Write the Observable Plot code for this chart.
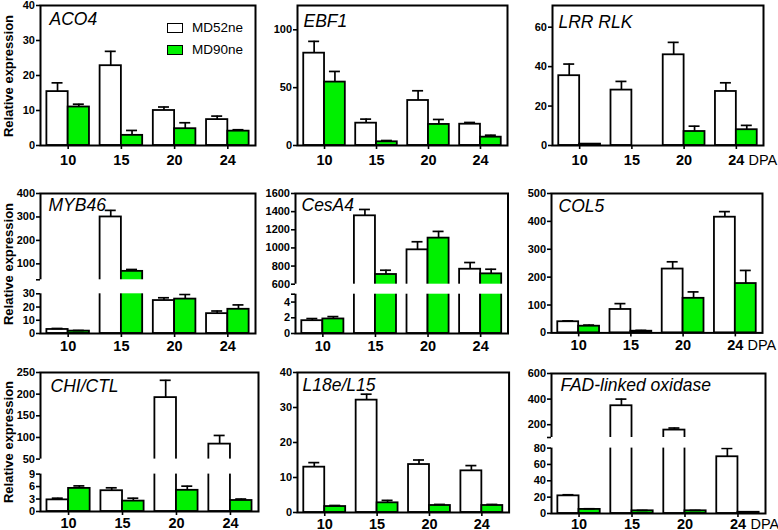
<!DOCTYPE html>
<html><head><meta charset="utf-8">
<script src="https://cdn.jsdelivr.net/npm/d3@7"></script>
<script src="https://cdn.jsdelivr.net/npm/@observablehq/plot@0.6"></script>
<style>
body{margin:0;background:#fff;}
#root{position:relative;width:778px;height:530px;overflow:hidden;font-family:"Liberation Sans",Arial,sans-serif;background:#fff;}
#root svg{position:absolute;overflow:visible;}
.ylab{position:absolute;font-weight:bold;font-size:13px;transform:translate(-50%,-50%) rotate(-90deg);white-space:nowrap;line-height:1;}
.leg{position:absolute;font-size:13.5px;line-height:1;display:flex;align-items:center;white-space:nowrap;}
.sw{display:inline-block;width:14px;height:8px;border:1.5px solid #000;margin-right:9px;}
svg g[aria-label$="axis tick label"] text{font-weight:bold;}
</style></head><body><div id="root"></div>
<script>
// ---- data ----
const days = ["10", "15", "20", "24"];
const series = ["MD52ne", "MD90ne"];
const genes = ["ACO4", "EBF1", "LRR RLK", "MYB46", "CesA4", "COL5", "CHI/CTL", "L18e/L15", "FAD-linked oxidase"];
const md52ne = [
  [15.4, 22.8, 10.0, 7.4],
  [79.8, 19.3, 38.9, 18.4],
  [35.4, 28.1, 46.0, 27.4],
  [3.05, 300, 24.9, 15.0],
  [1.63, 1354, 979, 765],
  [40, 84, 229, 415],
  [2.8, 5.0, 192, 84.6],
  [12.95, 32.1, 13.7, 11.9],
  [21.6, 348, 158, 69.4]
];
const md52neErr = [
  [2.5, 4.1, 1.0, 1.0],
  [10.2, 3.5, 8.4, 1.5],
  [5.9, 4.4, 6.3, 4.4],
  [0.75, 28, 2.1, 2.0],
  [0.27, 70, 89, 74],
  [3, 21, 26, 20],
  [0.4, 0.7, 40, 20],
  [1.3, 1.7, 1.3, 1.5],
  [1.3, 52, 16, 10.2]
];
const md90ne = [
  [11.0, 2.9, 4.8, 4.1],
  [54.8, 3.2, 18.2, 7.2],
  [0.7, 0, 7.1, 8.0],
  [1.8, 68, 26.0, 18.3],
  [1.85, 707, 1108, 714],
  [24, 6, 124, 177],
  [5.56, 2.5, 5.1, 2.65],
  [1.7, 2.76, 2.0, 2.0],
  [5.0, 3.3, 3.3, 1.5]
];
const md90neErr = [
  [0.8, 1.4, 1.7, 0.4],
  [9.2, 1.1, 4.3, 1.7],
  [0, 0, 2.7, 2.2],
  [0.5, 8, 3.5, 3.3],
  [0.3, 47, 74, 51],
  [4, 3, 23, 47],
  [0.6, 0.7, 1.0, 0.35],
  [0.3, 0.7, 0.3, 0.3],
  [0.8, 0.5, 0.5, 0.4]
];
// y domains (4 values = broken axis: [0, lowerTop, upperBottom, max])
const yDomains = [[0, 40], [0, 121], [0, 71], [0, 30, 32, 400], [0, 5, 600, 1600], [0, 500], [0, 9, 50, 250], [0, 40], [0, 80, 100, 600]];
const yTicks = [
  [0, 10, 20, 30, 40],
  [0, 50, 100],
  [0, 20, 40, 60],
  [0, 10, 20, 30, 32, 100, 200, 300, 400],
  [0, 2, 4, 5, 600, 800, 1000, 1200, 1400, 1600],
  [0, 100, 200, 300, 400, 500],
  [0, 3, 6, 9, 50, 100, 150, 200, 250],
  [0, 10, 20, 30, 40],
  [0, 20, 40, 60, 80, 100, 200, 400, 600]
];
const yUnlabeled = [[], [], [], [32], [5], [], [], [], [100]];
const yLabel = "Relative expression";
const xUnit = "DPA";

// ---- layout (page pixels) ----
const frames = [
  {L: 40, R: 255, T: 5, B: 145, gx: 9, gy: 7, xp: 5, ylab: true, legend: true},
  {L: 297, R: 507, T: 5, B: 145, gx: 6, gy: 9, xp: 5},
  {L: 552, R: 763, T: 5, B: 145, gx: 6, gy: 10, xp: 5, dpa: true},
  {L: 40, R: 255, T: 193, B: 333, brk: [293.3, 279.3], gx: 8, gy: 5, xp: 3, ylab: true},
  {L: 294.5, R: 507, T: 193.3, B: 333.3, brk: [294, 284], gx: 6, gy: 5, xp: 3},
  {L: 551, R: 762, T: 193.3, B: 332.7, gx: 7, gy: 6, xp: 3, dpa: true},
  {L: 40, R: 258, T: 371.7, B: 510.7, brk: [473.3, 458.3], gx: 10, gy: 7, xp: 2.5, ylab: true},
  {L: 296.7, R: 508.3, T: 371.7, B: 511.7, gx: 5, gy: 6, xp: 2},
  {L: 551, R: 765, T: 372.7, B: 512.7, brk: [447.3, 436.7], gx: 9, gy: 5, xp: 1, dpa: true}
];
const colors = {MD52ne: "#ffffff", MD90ne: "#00f000"};
const padIn = 0.2, padOut = 0.12, cap = 11;

const root = document.getElementById("root");

function drawPanel(g) {
  const f = frames[g];
  const mL = 42, mT = 6, mB = 26;
  const mR = f.dpa ? 778 - f.R : 8;
  const left = f.L - mL, top = f.T - mT;
  const width = f.R - f.L + mL + mR, height = f.B - f.T + mT + mB;
  const W = f.R - f.L;
  const step = W / (days.length - padIn + 2 * padOut);
  const bw = step * (1 - padIn);
  const rows = [];
  days.forEach((d, i) => {
    rows.push({day: d, series: "MD52ne", v: md52ne[g][i], e: md52neErr[g][i]});
    rows.push({day: d, series: "MD90ne", v: md90ne[g][i], e: md90neErr[g][i]});
  });
  const dom = yDomains[g];
  let y, toV = v => v;
  if (dom.length === 2) {
    y = {domain: dom};
  } else {
    // broken axis: piecewise transform into a pixel-proportional coordinate
    const [, lo, hi, max] = dom;
    const hLow = f.B - f.brk[0], gap = f.brk[0] - f.brk[1], hHigh = f.brk[1] - f.T;
    toV = v => v <= lo ? v / lo * hLow
      : v >= hi ? hLow + gap + (v - hi) / (max - hi) * hHigh
      : hLow + (v - lo) / (hi - lo) * gap;
    y = {transform: toV, domain: [0, f.B - f.T]};
  }
  const tickLabel = new Map(yTicks[g].map(t => [toV(t), yUnlabeled[g].includes(t) ? "" : String(t)]));
  const marks = [];
  for (const s of series) {
    const first = s === series[0];
    const sub = rows.filter(r => r.series === s);
    const sErr = sub.filter(r => r.e > 0);
    const off = first ? -bw / 4 : bw / 4;
    marks.push(Plot.barY(sub, {x: "day", y1: () => 0, y2: "v", fill: colors[s], stroke: "black", strokeWidth: 1.8,
      insetLeft: first ? 0 : bw / 2, insetRight: first ? bw / 2 : 0}));
    marks.push(Plot.ruleX(sErr, {x: "day", y1: "v", y2: r => r.v + r.e, dx: off, stroke: "black", strokeWidth: 1.7}));
    marks.push(Plot.tickY(sErr, {x: "day", y: r => r.v + r.e, dx: off, insetLeft: (bw - cap) / 2, insetRight: (bw - cap) / 2, stroke: "black", strokeWidth: 1.7}));
  }
  marks.push(Plot.frame({stroke: "black", strokeWidth: 2}));
  if (dom.length > 2) {
    marks.push(Plot.rect([{lo: dom[1], hi: dom[2]}], {y1: "lo", y2: "hi", fill: "white", insetLeft: -2.5, insetRight: 1.5}));
  }
  marks.push(Plot.axisY({ticks: [...tickLabel.keys()], tickFormat: d => tickLabel.get(d) ?? "",
    tickSize: 4, tickPadding: 1.5, fontSize: 11, fontWeight: "bold", strokeWidth: 1.6, label: null}));
  marks.push(Plot.axisX({tickSize: 4, tickPadding: f.xp, fontSize: 14.5, fontWeight: "bold", strokeWidth: 1.6, label: null}));
  marks.push(Plot.text([genes[g]], {frameAnchor: "top-left", text: d => d, dx: f.gx, dy: f.gy, fontSize: 17.5,
    fontStyle: "italic", lineAnchor: "top", textAnchor: "start", fill: "black"}));
  if (f.dpa) {
    marks.push(Plot.text([xUnit], {frameAnchor: "bottom-right", text: d => d, dx: -15, dy: 4 + f.xp, fontSize: 14.5,
      lineAnchor: "top", textAnchor: "start", fill: "black"}));
  }
  const svg = Plot.plot({
    width, height, marginLeft: mL, marginRight: mR, marginTop: mT, marginBottom: mB,
    style: {background: "transparent", fontFamily: "'Liberation Sans', Arial, sans-serif", color: "black", overflow: "visible"},
    x: {domain: days, paddingInner: padIn, paddingOuter: padOut, align: 0.5, round: false},
    y,
    marks
  });
  svg.style.left = left + "px";
  svg.style.top = top + "px";
  root.appendChild(svg);

  if (f.ylab) {
    const t = document.createElement("div");
    t.className = "ylab";
    t.textContent = yLabel;
    t.style.left = "8px";
    t.style.top = ((f.T + f.B) / 2 + 1) + "px";
    root.appendChild(t);
  }
  if (f.legend) {
    series.forEach((s, i) => {
      const l = document.createElement("div");
      l.className = "leg";
      l.style.left = (f.L + 127) + "px";
      l.style.top = (f.T + 16 + i * 22) + "px";
      const sw = document.createElement("span");
      sw.className = "sw";
      sw.style.background = colors[s];
      l.appendChild(sw);
      l.appendChild(document.createTextNode(s));
      root.appendChild(l);
    });
  }
}
genes.forEach((_, g) => drawPanel(g));
</script></body></html>
